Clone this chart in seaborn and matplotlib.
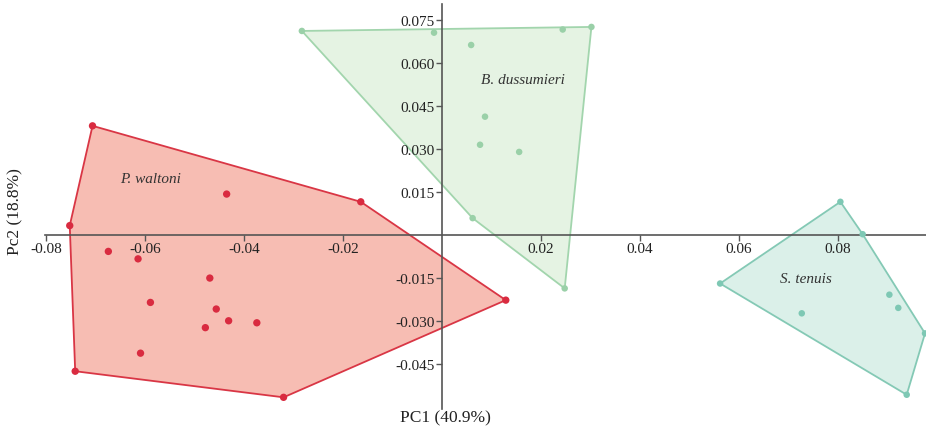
import numpy as np
import pandas as pd
import matplotlib
matplotlib.use("Agg")
import matplotlib.pyplot as plt
import seaborn as sns

# ---- data ----
waltoni_pc1 = [-0.0706, -0.0752, -0.0164, -0.0435, -0.0674, -0.0614, -0.0469, -0.0589,
               -0.0456, -0.0431, -0.0374, -0.0478, -0.0609, -0.0741, -0.0320, 0.0129]
waltoni_pc2 = [0.0381, 0.0033, 0.0116, 0.0143, -0.0057, -0.0083, -0.0150, -0.0235,
               -0.0258, -0.0299, -0.0306, -0.0323, -0.0412, -0.0475, -0.0566, -0.0227]
dussumieri_pc1 = [-0.0283, -0.0016, 0.0244, 0.0302, 0.0059, 0.0087, 0.0077, 0.0156, 0.0062, 0.0248]
dussumieri_pc2 = [0.0712, 0.0706, 0.0717, 0.0726, 0.0663, 0.0413, 0.0315, 0.0290, 0.0059, -0.0186]
tenuis_pc1 = [0.0562, 0.0805, 0.0850, 0.0904, 0.0922, 0.0976, 0.0939, 0.0727]
tenuis_pc2 = [-0.0169, 0.0116, 0.0003, -0.0208, -0.0254, -0.0343, -0.0557, -0.0273]

species = ["P. waltoni", "B. dussumieri", "S. tenuis"]
label_pos = {"P. waltoni": (-0.0588, 0.0199),
             "B. dussumieri": (0.0163, 0.0544),
             "S. tenuis": (0.0736, -0.0153)}
x_ticks = [-0.08, -0.06, -0.04, -0.02, 0.02, 0.04, 0.06, 0.08]
y_ticks = [-0.045, -0.030, -0.015, 0.015, 0.030, 0.045, 0.060, 0.075]
x_label = "PC1 (40.9%)"
y_label = "Pc2 (18.8%)"

df = pd.concat([
    pd.DataFrame({"PC1": waltoni_pc1, "PC2": waltoni_pc2, "species": "P. waltoni"}),
    pd.DataFrame({"PC1": dussumieri_pc1, "PC2": dussumieri_pc2, "species": "B. dussumieri"}),
    pd.DataFrame({"PC1": tenuis_pc1, "PC2": tenuis_pc2, "species": "S. tenuis"}),
], ignore_index=True)

point_col = {"P. waltoni": "#d92b40", "B. dussumieri": "#9ad0a8", "S. tenuis": "#7ec8b4"}
fill_col = {"P. waltoni": "#f7bdb3", "B. dussumieri": "#e5f3e3", "S. tenuis": "#dbf0e9"}
edge_col = {"P. waltoni": "#d93645", "B. dussumieri": "#a2d5ad", "S. tenuis": "#84c9b5"}
point_size = {"P. waltoni": 28, "B. dussumieri": 22, "S. tenuis": 22}


def convex_hull(pts):
    pts = sorted(set(pts))
    def cross(o, a, b):
        return (a[0]-o[0])*(b[1]-o[1]) - (a[1]-o[1])*(b[0]-o[0])
    lower, upper = [], []
    for p in pts:
        while len(lower) >= 2 and cross(lower[-2], lower[-1], p) <= 0:
            lower.pop()
        lower.append(p)
    for p in reversed(pts):
        while len(upper) >= 2 and cross(upper[-2], upper[-1], p) <= 0:
            upper.pop()
        upper.append(p)
    return lower[:-1] + upper[:-1]


sns.set_theme(style="white")
plt.rcParams["font.family"] = ["Liberation Serif", "DejaVu Serif"]

W, H = 926, 431
fig = plt.figure(figsize=(W/100, H/100), dpi=100)
xmin, xmax = -0.0802, 0.0978
ymin, ymax = -0.0605, 0.0806
ax = fig.add_axes([45/W, (H-409.5)/H, (W-45)/W, (409.5-5)/H])
ax.set_xlim(xmin, xmax)
ax.set_ylim(ymin, ymax)
ax.set_axisbelow(False)

for sp in species:
    sub = df[df.species == sp]
    hull = convex_hull(list(zip(sub.PC1, sub.PC2)))
    hx = [p[0] for p in hull]
    hy = [p[1] for p in hull]
    ax.fill(hx, hy, facecolor=fill_col[sp], edgecolor=edge_col[sp], linewidth=1.3, zorder=1)
    sns.scatterplot(data=sub, x="PC1", y="PC2", color=point_col[sp], s=point_size[sp],
                    edgecolor="none", ax=ax, zorder=3, legend=False, clip_on=False)
    tx, ty = label_pos[sp]
    ax.text(tx, ty, sp, fontsize=11, style="italic", color="#333333",
            ha="center", va="center", zorder=4)

for side in ["top", "right"]:
    ax.spines[side].set_visible(False)
ax.spines["left"].set_position(("data", 0))
ax.spines["bottom"].set_position(("data", 0))
for side in ["left", "bottom"]:
    ax.spines[side].set_color("#555555")
    ax.spines[side].set_linewidth(1.2)
    ax.spines[side].set_zorder(2.5)

ax.set_xticks(x_ticks)
ax.set_xticklabels([f"{v:.2f}" for v in x_ticks])
ax.set_yticks(y_ticks)
ax.set_yticklabels([f"{v:.3f}" for v in y_ticks])
ax.tick_params(axis="both", direction="out", length=4, width=1, color="#555555",
               labelsize=11, labelcolor="#222222", pad=1)
ax.tick_params(axis="x", bottom=True)
ax.tick_params(axis="y", left=True)
ax.set_xlabel("")
ax.set_ylabel("")
ax.grid(False)

fig.text(445/W, 1-418/H, x_label, fontsize=12.5, color="#222222", ha="center", va="center")
fig.text(15/W, 1-212/H, y_label, fontsize=12.5, color="#222222", ha="center", va="center",
         rotation=90)

fig.savefig("out.png", dpi=100)
